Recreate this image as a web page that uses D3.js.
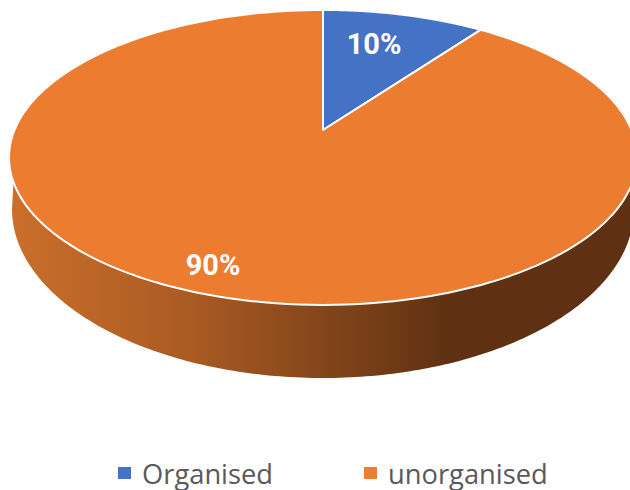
<!DOCTYPE html>
<html>
<head>
<meta charset="utf-8">
<script src="https://cdn.jsdelivr.net/npm/d3@7"></script>
<style>
  html, body { margin: 0; padding: 0; background: #fff; }
</style>
</head>
<body>
<div id="chart"></div>
<script>
const categories = ["Organised", "unorganised"];
const shares = [10, 90];
const sliceLabels = ["10%", "90%"];
const colors = ["#4472c4", "#eb7c30"];

const width = 630, height = 490;

// perspective of the tilted disc: centre of the pie sits above the centre of the ellipse
const cx = 323, cy = 130, rimX = 308.5, rimY = 142.4, tilt = -0.186;
// lower edge of the side wall
const baseY = 209, baseRx = 311, baseRy = 169;

function project(angle) {
    const u = Math.sin(angle), v = -Math.cos(angle), w = 1 + tilt * v;
    return [cx + rimX * u / w, cy + rimY * v / w];
}

const rad = d => d * Math.PI / 180;

const svg = d3.select("#chart")
    .append("svg")
    .attr("width", width)
    .attr("height", height)
    .style("display", "block");

const slices = d3.pie().sort(null).value(d => d)(shares);
const line = d3.line();

// side wall shading, lit from the left
const grad = svg.append("defs").append("linearGradient")
    .attr("id", "wall")
    .attr("gradientUnits", "userSpaceOnUse")
    .attr("x1", 9).attr("x2", 637).attr("y1", 0).attr("y2", 0);
grad.append("stop").attr("offset", 0).attr("stop-color", "#cb6f2b");
grad.append("stop").attr("offset", 0.3).attr("stop-color", "#a85a22");
grad.append("stop").attr("offset", 0.7).attr("stop-color", "#5f3112");
grad.append("stop").attr("offset", 1).attr("stop-color", "#5f3112");

const wallEdge = [
    ...d3.range(110, 251, 1).map(d => project(rad(d))),
    ...d3.range(270, 89, -1).map(d => [cx + baseRx * Math.sin(rad(d)), baseY - baseRy * Math.cos(rad(d))])
];
svg.append("path")
    .attr("d", line(wallEdge) + "Z")
    .attr("fill", "url(#wall)");

// top face
svg.append("g")
    .selectAll("path")
    .data(slices)
    .join("path")
    .attr("d", d => {
        const steps = d3.range(0, 1.0001, 1 / 180).map(t => project(d.startAngle + t * (d.endAngle - d.startAngle)));
        return line([[cx, cy], ...steps]) + "Z";
    })
    .attr("fill", (d, i) => colors[i])
    .attr("stroke", "#fff")
    .attr("stroke-width", 2)
    .attr("stroke-linejoin", "round");

// slice labels
const labelPos = [[374, 44], [213, 265]];
svg.append("g")
    .selectAll("text")
    .data(sliceLabels)
    .join("text")
    .attr("x", (d, i) => labelPos[i][0])
    .attr("y", (d, i) => labelPos[i][1])
    .attr("text-anchor", "middle")
    .attr("dominant-baseline", "central")
    .attr("fill", "#fff")
    .style("font-family", "Roboto")
    .style("font-weight", 700)
    .style("font-size", "29px")
    .text(d => d);

// legend
const legendX = [118, 364];
const legend = svg.append("g")
    .selectAll("g")
    .data(categories)
    .join("g")
    .attr("transform", (d, i) => `translate(${legendX[i]},467)`);
legend.append("rect")
    .attr("width", 13).attr("height", 12)
    .attr("fill", (d, i) => d === categories[0] ? colors[0] : "#ed7d31");
legend.append("text")
    .attr("x", 24).attr("y", 6)
    .attr("dominant-baseline", "central")
    .attr("fill", "#595959")
    .style("font-family", "Open Sans")
    .style("font-size", "27.3px")
    .text(d => d);
</script>
</body>
</html>
